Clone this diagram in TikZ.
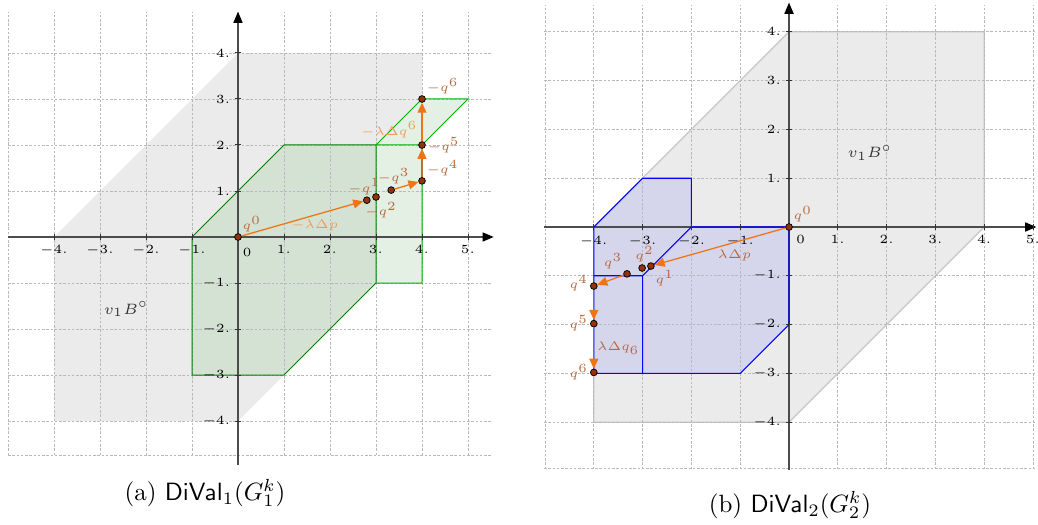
\documentclass[tikz,border=0pt]{standalone}
\usepackage{amsmath, amssymb}
\usepackage{tikz}
\usetikzlibrary{arrows.meta, calc}

\definecolor{qfill}{RGB}{150,50,10}
\definecolor{qtext}{RGB}{185,105,65}
\definecolor{qarrow}{RGB}{240,115,20}
\definecolor{qlight}{RGB}{240,155,95}
\definecolor{qbrown}{RGB}{180,115,50}
\definecolor{qmauve}{RGB}{160,95,105}
\definecolor{ballgray}{RGB}{235,235,235}
\definecolor{greenmain}{RGB}{212,226,211}
\definecolor{greenlight}{RGB}{227,240,227}
\definecolor{bluefill}{RGB}{213,213,236}

\begin{document}
\begin{tikzpicture}[x=0.4pt, y=-0.4pt,
  gridline/.style={gray!55, line width=0.3pt, dash pattern=on 1pt off 0.7pt},
  axisline/.style={black!70, line width=0.65pt, -{Triangle[length=4.5pt, width=3.6pt, color=black]}},
  tickmark/.style={black!80, line width=0.4pt},
  ticklabel/.style={font=\fontsize{5.2}{6}\selectfont, inner sep=0.8pt},
  qpt/.style={circle, draw=black, fill=qfill, line width=0.3pt, inner sep=0pt, minimum size=2.7pt},
  qlab/.style={text=qtext, font=\fontsize{5.4}{6}\selectfont, inner sep=0.6pt},
  qarr/.style={qarrow, line width=0.5pt, -{Triangle[length=4pt, width=3.6pt, color=qarrow]}}]
  \useasboundingbox (0,0) rectangle (1038,525);

  % (a) DiVal_1
  \begin{scope}[shift={(95.2pt,-94.8pt)}, x=18.4pt, y=18.4pt]
    \fill[ballgray] (-4,-4) -- (-4,0) -- (0,4) -- (4,4) -- (4,0) -- (0,-4) -- cycle;
    \fill[greenlight] (-1,-3) -- (-1,0) -- (1,2) -- (3,2) -- (4,3) -- (5,3) -- (4,2) -- (4,-1) -- (3,-1) -- (1,-3) -- cycle;
    \fill[greenmain] (-1,-3) -- (-1,0) -- (1,2) -- (3,2) -- (3,-1) -- (1,-3) -- cycle;
    \foreach \i in {-5,...,5}
      \draw[gridline] (\i,-4.74) -- (\i,4.9);
    \foreach \j in {-4,...,4}
      \draw[gridline] (-5,\j) -- (5.5,\j);
    \draw[gridline] (-5,-4.74) -- (5.5,-4.74);
    \draw[green!50!black, line width=0.4pt] (-1,-3) -- (-1,0) -- (1,2) -- (3,2) -- (3,-1) -- (1,-3) -- cycle;
    \draw[green!70!black, line width=0.4pt] (3,2) -- (4,3) -- (5,3) -- (4,2) -- (3,2) (4,2) -- (4,-1) -- (3,-1);
    \draw[axisline] (-5,0) -- (5.56,0);
    \draw[axisline] (0,-4.96) -- (0,4.9);
    \foreach \i in {-4,-3,-2,-1,1,2,3,4,5} {
      \draw[tickmark] (\i,-0.07) -- (\i,0.07);
      \node[ticklabel, anchor=north] at (\i,-0.13) {$\i.$};
    }
    \foreach \j in {-4,-3,-2,-1,1,2,3,4} {
      \draw[tickmark] (-0.07,\j) -- (0.07,\j);
      \node[ticklabel, anchor=east] at (-0.11,\j) {$\j.$};
    }
    \node[ticklabel, anchor=north west] at (0.05,-0.2) {$0$};
    \node[text=gray!40!black, font=\fontsize{6}{7}\selectfont] (lball) at (-2.43,-1.57) {$v_1B^\circ$};

    \node[qpt, label={[qlab]above right:$q^0$}] (lq0) at (0,0) {};
    \node[qpt, label={[qlab, xshift=-1pt]above:$-q^1$}] (lq1) at (2.8,0.8) {};
    \node[qpt, label={[qlab, xshift=2pt]below:$-q^2$}] (lq2) at (3,0.87) {};
    \node[qpt, label={[qlab, xshift=1pt]above:$-q^3$}] (lq3) at (3.33,1.02) {};
    \node[qpt, label={[qlab]above right:$-q^4$}] (lq4) at (4,1.22) {};
    \node[qpt, label={[qlab]right:$-q^5$}] (lq5) at (4,2) {};
    \node[qpt, label={[qlab]above right:$-q^6$}] (lq6) at (4,3) {};
    \draw[qarr] (lq0) -- node[qlab, text=qlight, pos=0.6, below=1pt] {$-\lambda\Delta p$} (lq1);
    \draw[qarr] (lq3) -- (lq4);
    \draw[qarr, draw=qbrown] (lq4) -- (lq5);
    \draw[qarr] (lq5) -- node[qlab, text=qlight, pos=0.3, left=1pt] {$-\lambda\Delta q^6$} (lq6);
  \end{scope}

  % (b) DiVal_2
  \begin{scope}[shift={(315.6pt,-90.8pt)}, x=19.52pt, y=19.52pt]
    \filldraw[fill=ballgray, draw=gray!45, line width=0.5pt] (-4,-4) -- (-4,0) -- (0,4) -- (4,4) -- (4,0) -- (0,-4) -- cycle;
    \fill[bluefill] (-4,-3) -- (-4,0) -- (-3,1) -- (-2,1) -- (-2,0) -- (0,0) -- (0,-2) -- (-1,-3) -- cycle;
    \foreach \i in {-5,...,5}
      \draw[gridline] (\i,-4.96) -- (\i,4.55);
    \foreach \j in {-4,...,4}
      \draw[gridline] (-5.02,\j) -- (5.07,\j);
    \draw[gridline] (-5.02,-4.94) -- (5.07,-4.94);
    \draw[axisline] (-5.02,0) -- (5.07,0);
    \draw[axisline] (0,-4.98) -- (0,4.6);
    \draw[blue, line width=0.45pt] (-4,-3) -- (-4,0) -- (-3,1) -- (-2,1) -- (-2,0) -- (0,0) -- (0,-2) -- (-1,-3) -- cycle;
    \draw[blue, line width=0.45pt] (-2,0) -- (-3,-1) -- (-4,-1) (-3,-1) -- (-3,-3);
    \foreach \i in {-4,-3,-2,-1,1,2,3,4,5} {
      \draw[tickmark] (\i,-0.07) -- (\i,0.07);
      \node[ticklabel, anchor=north] at (\i,-0.13) {$\i.$};
    }
    \foreach \j in {-4,-3,-2,-1,1,2,3,4} {
      \draw[tickmark] (-0.07,\j) -- (0.07,\j);
      \node[ticklabel, anchor=east] at (-0.11,\j) {$\j.$};
    }
    \node[ticklabel, anchor=north west] at (0.1,-0.13) {$0$};
    \node[text=gray!40!black, font=\fontsize{6}{7}\selectfont] (rball) at (1.66,1.52) {$v_1B^\circ$};

    \node[qpt, label={[qlab]above right:$q^0$}] (rq0) at (0,0) {};
    \node[qpt, label={[qlab]below right:$q^1$}] (rq1) at (-2.83,-0.8) {};
    \node[qpt, label={[qlab, xshift=1pt]above:$q^2$}] (rq2) at (-3.01,-0.84) {};
    \node[qpt, label={[qlab]above left:$q^3$}] (rq3) at (-3.32,-0.96) {};
    \node[qpt, label={[qlab, yshift=1pt]left:$q^4$}] (rq4) at (-4,-1.21) {};
    \node[qpt, label={[qlab]left:$q^5$}] (rq5) at (-4,-1.98) {};
    \node[qpt, label={[qlab]left:$q^6$}] (rq6) at (-4,-2.98) {};
    \draw[qarr] (rq0) -- node[qlab, pos=0.39, below=2pt] {$\lambda\Delta p$} (rq1);
    \draw[qarr] (rq3) -- (rq4);
    \draw[qarr, draw=qmauve] (rq4) -- (rq5);
    \draw[qarr, draw=qmauve] (rq5) -- node[qlab, right=0.5pt] {$\lambda\Delta q_6$} (rq6);
  \end{scope}

  \node (capa) at (205,493) {(a) $\mathsf{DiVal}_1(G_1^k)$};
  \node (capb) at (790,505) {(b) $\mathsf{DiVal}_2(G_2^k)$};
\end{tikzpicture}
\end{document}
